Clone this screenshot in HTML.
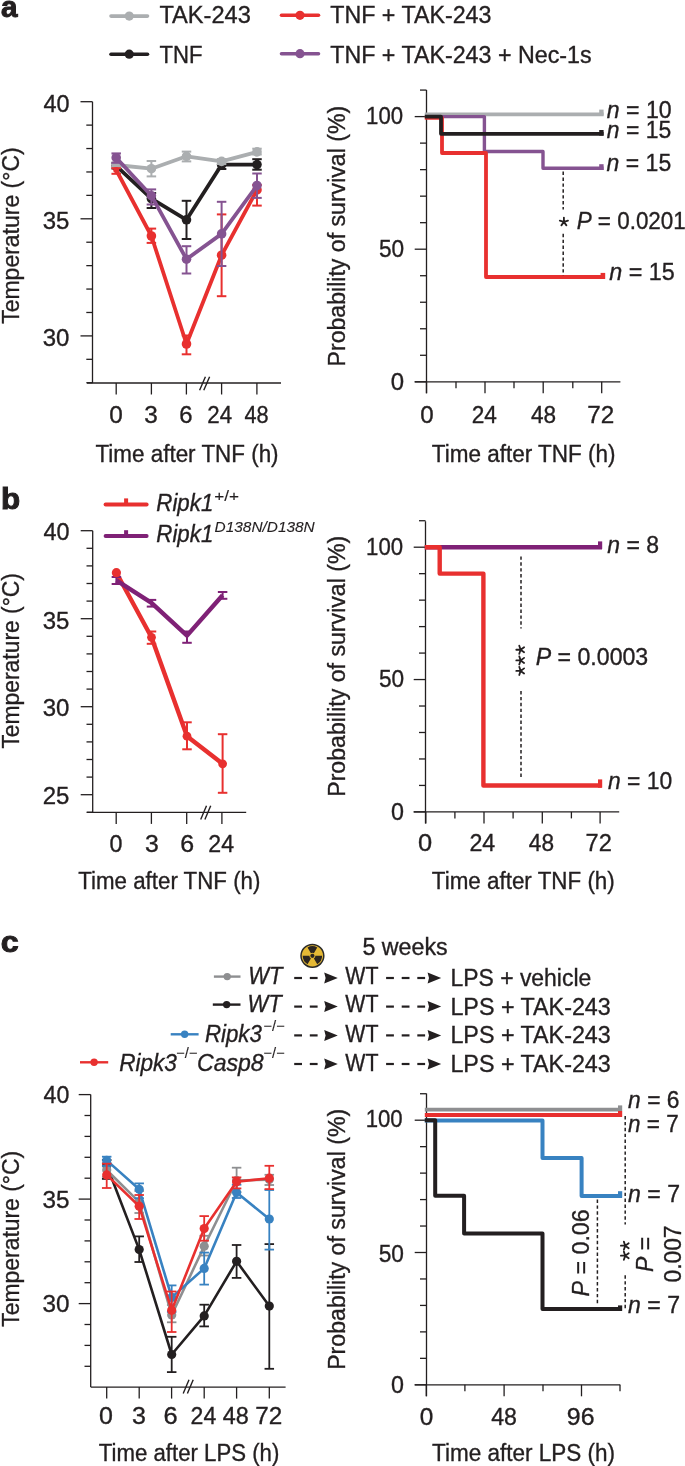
<!DOCTYPE html>
<html><head><meta charset="utf-8"><style>
html,body{margin:0;padding:0;background:#fff;overflow:hidden;}
svg{display:block;will-change:transform;}
text{font-family:"Liberation Sans",sans-serif;stroke:#231f20;stroke-width:0.35px;}
</style></head><body>
<svg width="685" height="1466" viewBox="0 0 685 1466">
<rect width="685" height="1466" fill="#fff"/>
<text x="0.90" y="16.60" font-size="29.5" text-anchor="start" fill="#231f20" textLength="16.52" lengthAdjust="spacingAndGlyphs" font-weight="bold" style="stroke-width:1.0px">a</text>
<text x="0.94" y="508.90" font-size="29.5" text-anchor="start" fill="#231f20" textLength="19.16" lengthAdjust="spacingAndGlyphs" font-weight="bold" style="stroke-width:1.0px">b</text>
<text x="0.71" y="951.50" font-size="29.5" text-anchor="start" fill="#231f20" textLength="17.95" lengthAdjust="spacingAndGlyphs" font-weight="bold" style="stroke-width:1.0px">c</text>
<line x1="111.00" y1="16.10" x2="147.50" y2="16.10" stroke="#abaeb0" stroke-width="3.6" stroke-linecap="round"/>
<circle cx="129.25" cy="16.10" r="4.6" fill="#abaeb0"/>
<line x1="111.00" y1="54.20" x2="147.50" y2="54.20" stroke="#231f20" stroke-width="3.6" stroke-linecap="round"/>
<circle cx="129.25" cy="54.20" r="4.6" fill="#231f20"/>
<line x1="281.50" y1="15.30" x2="318.50" y2="15.30" stroke="#e8302f" stroke-width="3.6" stroke-linecap="round"/>
<circle cx="300.00" cy="15.30" r="4.6" fill="#e8302f"/>
<line x1="281.50" y1="53.70" x2="318.50" y2="53.70" stroke="#855391" stroke-width="3.6" stroke-linecap="round"/>
<circle cx="300.00" cy="53.70" r="4.6" fill="#855391"/>
<text x="159.40" y="23.40" font-size="23.5" text-anchor="start" fill="#231f20" textLength="91.51" lengthAdjust="spacingAndGlyphs" >TAK-243</text>
<text x="159.50" y="62.60" font-size="23.5" text-anchor="start" fill="#231f20" textLength="42.95" lengthAdjust="spacingAndGlyphs" >TNF</text>
<text x="330.20" y="23.40" font-size="23.5" text-anchor="start" fill="#231f20" textLength="161.22" lengthAdjust="spacingAndGlyphs" >TNF + TAK-243</text>
<text x="330.20" y="62.50" font-size="23.5" text-anchor="start" fill="#231f20" textLength="261.35" lengthAdjust="spacingAndGlyphs" >TNF + TAK-243 + Nec-1s</text>
<line x1="92.50" y1="101.70" x2="92.50" y2="383.00" stroke="#231f20" stroke-width="1.3" />
<line x1="86.30" y1="382.74" x2="92.50" y2="382.74" stroke="#231f20" stroke-width="1.3" />
<line x1="86.30" y1="359.32" x2="92.50" y2="359.32" stroke="#231f20" stroke-width="1.3" />
<line x1="80.50" y1="335.90" x2="92.50" y2="335.90" stroke="#231f20" stroke-width="1.3" />
<line x1="86.30" y1="312.48" x2="92.50" y2="312.48" stroke="#231f20" stroke-width="1.3" />
<line x1="86.30" y1="289.06" x2="92.50" y2="289.06" stroke="#231f20" stroke-width="1.3" />
<line x1="86.30" y1="265.64" x2="92.50" y2="265.64" stroke="#231f20" stroke-width="1.3" />
<line x1="86.30" y1="242.22" x2="92.50" y2="242.22" stroke="#231f20" stroke-width="1.3" />
<line x1="80.50" y1="218.80" x2="92.50" y2="218.80" stroke="#231f20" stroke-width="1.3" />
<line x1="86.30" y1="195.38" x2="92.50" y2="195.38" stroke="#231f20" stroke-width="1.3" />
<line x1="86.30" y1="171.96" x2="92.50" y2="171.96" stroke="#231f20" stroke-width="1.3" />
<line x1="86.30" y1="148.54" x2="92.50" y2="148.54" stroke="#231f20" stroke-width="1.3" />
<line x1="86.30" y1="125.12" x2="92.50" y2="125.12" stroke="#231f20" stroke-width="1.3" />
<line x1="80.50" y1="101.70" x2="92.50" y2="101.70" stroke="#231f20" stroke-width="1.3" />
<line x1="87.00" y1="383.00" x2="281.00" y2="383.00" stroke="#231f20" stroke-width="1.3" />
<line x1="116.20" y1="383.00" x2="116.20" y2="394.50" stroke="#231f20" stroke-width="1.3" />
<line x1="151.40" y1="383.00" x2="151.40" y2="394.50" stroke="#231f20" stroke-width="1.3" />
<line x1="186.40" y1="383.00" x2="186.40" y2="394.50" stroke="#231f20" stroke-width="1.3" />
<line x1="221.60" y1="383.00" x2="221.60" y2="394.50" stroke="#231f20" stroke-width="1.3" />
<line x1="256.90" y1="383.00" x2="256.90" y2="394.50" stroke="#231f20" stroke-width="1.3" />
<line x1="199.60" y1="390.35" x2="205.40" y2="376.65" stroke="#231f20" stroke-width="1.4" />
<line x1="203.80" y1="390.35" x2="209.60" y2="376.65" stroke="#231f20" stroke-width="1.4" />
<text x="43.50" y="111.70" font-size="23.5" text-anchor="start" fill="#231f20" textLength="26.04" lengthAdjust="spacingAndGlyphs" >40</text>
<text x="42.68" y="228.80" font-size="23.5" text-anchor="start" fill="#231f20" textLength="26.69" lengthAdjust="spacingAndGlyphs" >35</text>
<text x="42.68" y="345.90" font-size="23.5" text-anchor="start" fill="#231f20" textLength="26.69" lengthAdjust="spacingAndGlyphs" >30</text>
<text x="109.36" y="423.20" font-size="23.5" text-anchor="start" fill="#231f20" textLength="13.55" lengthAdjust="spacingAndGlyphs" >0</text>
<text x="144.26" y="423.20" font-size="23.5" text-anchor="start" fill="#231f20" textLength="13.55" lengthAdjust="spacingAndGlyphs" >3</text>
<text x="179.38" y="423.20" font-size="23.5" text-anchor="start" fill="#231f20" textLength="13.32" lengthAdjust="spacingAndGlyphs" >6</text>
<text x="207.35" y="423.20" font-size="23.5" text-anchor="start" fill="#231f20" textLength="24.78" lengthAdjust="spacingAndGlyphs" >24</text>
<text x="244.40" y="423.20" font-size="23.5" text-anchor="start" fill="#231f20" textLength="24.15" lengthAdjust="spacingAndGlyphs" >48</text>
<text x="95.50" y="461.70" font-size="23.5" text-anchor="start" fill="#231f20" textLength="183.09" lengthAdjust="spacingAndGlyphs" >Time after TNF (h)</text>
<text x="19.00" y="323.80" font-size="23.5" text-anchor="start" fill="#231f20" transform="rotate(-90 19.00 323.80)" textLength="176.45" lengthAdjust="spacingAndGlyphs" >Temperature (°C)</text>
<line x1="116.20" y1="163.00" x2="116.20" y2="168.50" stroke="#231f20" stroke-width="2.0" />
<line x1="111.45" y1="163.00" x2="120.95" y2="163.00" stroke="#231f20" stroke-width="2.0" />
<line x1="111.45" y1="168.50" x2="120.95" y2="168.50" stroke="#231f20" stroke-width="2.0" />
<line x1="151.40" y1="193.00" x2="151.40" y2="208.00" stroke="#231f20" stroke-width="2.0" />
<line x1="146.65" y1="193.00" x2="156.15" y2="193.00" stroke="#231f20" stroke-width="2.0" />
<line x1="146.65" y1="208.00" x2="156.15" y2="208.00" stroke="#231f20" stroke-width="2.0" />
<line x1="186.50" y1="200.80" x2="186.50" y2="239.00" stroke="#231f20" stroke-width="2.0" />
<line x1="181.75" y1="200.80" x2="191.25" y2="200.80" stroke="#231f20" stroke-width="2.0" />
<line x1="181.75" y1="239.00" x2="191.25" y2="239.00" stroke="#231f20" stroke-width="2.0" />
<line x1="221.60" y1="161.00" x2="221.60" y2="169.00" stroke="#231f20" stroke-width="2.0" />
<line x1="216.85" y1="161.00" x2="226.35" y2="161.00" stroke="#231f20" stroke-width="2.0" />
<line x1="216.85" y1="169.00" x2="226.35" y2="169.00" stroke="#231f20" stroke-width="2.0" />
<line x1="257.00" y1="159.20" x2="257.00" y2="169.70" stroke="#231f20" stroke-width="2.0" />
<line x1="252.25" y1="159.20" x2="261.75" y2="159.20" stroke="#231f20" stroke-width="2.0" />
<line x1="252.25" y1="169.70" x2="261.75" y2="169.70" stroke="#231f20" stroke-width="2.0" />
<polyline points="116.20,165.80 151.40,198.60 186.50,219.80 221.60,164.70 257.00,164.60" fill="none" stroke="#231f20" stroke-width="3.8" stroke-linejoin="round" />
<circle cx="116.20" cy="165.80" r="4.8" fill="#231f20"/>
<circle cx="151.40" cy="198.60" r="4.8" fill="#231f20"/>
<circle cx="186.50" cy="219.80" r="4.8" fill="#231f20"/>
<circle cx="221.60" cy="164.70" r="4.8" fill="#231f20"/>
<circle cx="257.00" cy="164.60" r="4.8" fill="#231f20"/>
<line x1="116.20" y1="162.50" x2="116.20" y2="167.50" stroke="#abaeb0" stroke-width="2.0" />
<line x1="111.45" y1="162.50" x2="120.95" y2="162.50" stroke="#abaeb0" stroke-width="2.0" />
<line x1="111.45" y1="167.50" x2="120.95" y2="167.50" stroke="#abaeb0" stroke-width="2.0" />
<line x1="151.40" y1="161.00" x2="151.40" y2="176.40" stroke="#abaeb0" stroke-width="2.0" />
<line x1="146.65" y1="161.00" x2="156.15" y2="161.00" stroke="#abaeb0" stroke-width="2.0" />
<line x1="146.65" y1="176.40" x2="156.15" y2="176.40" stroke="#abaeb0" stroke-width="2.0" />
<line x1="186.50" y1="151.60" x2="186.50" y2="161.40" stroke="#abaeb0" stroke-width="2.0" />
<line x1="181.75" y1="151.60" x2="191.25" y2="151.60" stroke="#abaeb0" stroke-width="2.0" />
<line x1="181.75" y1="161.40" x2="191.25" y2="161.40" stroke="#abaeb0" stroke-width="2.0" />
<line x1="221.60" y1="159.00" x2="221.60" y2="164.00" stroke="#abaeb0" stroke-width="2.0" />
<line x1="216.85" y1="159.00" x2="226.35" y2="159.00" stroke="#abaeb0" stroke-width="2.0" />
<line x1="216.85" y1="164.00" x2="226.35" y2="164.00" stroke="#abaeb0" stroke-width="2.0" />
<line x1="257.00" y1="148.70" x2="257.00" y2="154.50" stroke="#abaeb0" stroke-width="2.0" />
<line x1="252.25" y1="148.70" x2="261.75" y2="148.70" stroke="#abaeb0" stroke-width="2.0" />
<line x1="252.25" y1="154.50" x2="261.75" y2="154.50" stroke="#abaeb0" stroke-width="2.0" />
<polyline points="116.20,165.00 151.40,168.70 186.50,156.30 221.60,161.40 257.00,151.90" fill="none" stroke="#abaeb0" stroke-width="3.8" stroke-linejoin="round" />
<circle cx="116.20" cy="165.00" r="4.8" fill="#abaeb0"/>
<circle cx="151.40" cy="168.70" r="4.8" fill="#abaeb0"/>
<circle cx="186.50" cy="156.30" r="4.8" fill="#abaeb0"/>
<circle cx="221.60" cy="161.40" r="4.8" fill="#abaeb0"/>
<circle cx="257.00" cy="151.90" r="4.8" fill="#abaeb0"/>
<line x1="116.20" y1="168.20" x2="116.20" y2="173.80" stroke="#e8302f" stroke-width="2.0" />
<line x1="111.45" y1="168.20" x2="120.95" y2="168.20" stroke="#e8302f" stroke-width="2.0" />
<line x1="111.45" y1="173.80" x2="120.95" y2="173.80" stroke="#e8302f" stroke-width="2.0" />
<line x1="151.40" y1="228.60" x2="151.40" y2="242.90" stroke="#e8302f" stroke-width="2.0" />
<line x1="146.65" y1="228.60" x2="156.15" y2="228.60" stroke="#e8302f" stroke-width="2.0" />
<line x1="146.65" y1="242.90" x2="156.15" y2="242.90" stroke="#e8302f" stroke-width="2.0" />
<line x1="186.50" y1="335.50" x2="186.50" y2="354.30" stroke="#e8302f" stroke-width="2.0" />
<line x1="181.75" y1="335.50" x2="191.25" y2="335.50" stroke="#e8302f" stroke-width="2.0" />
<line x1="181.75" y1="354.30" x2="191.25" y2="354.30" stroke="#e8302f" stroke-width="2.0" />
<line x1="221.60" y1="214.40" x2="221.60" y2="296.20" stroke="#e8302f" stroke-width="2.0" />
<line x1="216.85" y1="214.40" x2="226.35" y2="214.40" stroke="#e8302f" stroke-width="2.0" />
<line x1="216.85" y1="296.20" x2="226.35" y2="296.20" stroke="#e8302f" stroke-width="2.0" />
<line x1="257.00" y1="185.00" x2="257.00" y2="205.60" stroke="#e8302f" stroke-width="2.0" />
<line x1="252.25" y1="185.00" x2="261.75" y2="185.00" stroke="#e8302f" stroke-width="2.0" />
<line x1="252.25" y1="205.60" x2="261.75" y2="205.60" stroke="#e8302f" stroke-width="2.0" />
<polyline points="116.20,170.00 151.40,236.00 186.50,344.00 221.60,255.20 257.00,189.90" fill="none" stroke="#e8302f" stroke-width="3.8" stroke-linejoin="round" />
<circle cx="116.20" cy="170.00" r="3.0" fill="#e8302f"/>
<circle cx="151.40" cy="236.00" r="4.8" fill="#e8302f"/>
<circle cx="186.50" cy="344.00" r="4.8" fill="#e8302f"/>
<circle cx="221.60" cy="255.20" r="4.8" fill="#e8302f"/>
<circle cx="257.00" cy="189.90" r="4.8" fill="#e8302f"/>
<line x1="116.20" y1="153.40" x2="116.20" y2="162.80" stroke="#855391" stroke-width="2.0" />
<line x1="111.45" y1="153.40" x2="120.95" y2="153.40" stroke="#855391" stroke-width="2.0" />
<line x1="111.45" y1="162.80" x2="120.95" y2="162.80" stroke="#855391" stroke-width="2.0" />
<line x1="151.40" y1="189.40" x2="151.40" y2="204.50" stroke="#855391" stroke-width="2.0" />
<line x1="146.65" y1="189.40" x2="156.15" y2="189.40" stroke="#855391" stroke-width="2.0" />
<line x1="146.65" y1="204.50" x2="156.15" y2="204.50" stroke="#855391" stroke-width="2.0" />
<line x1="186.50" y1="246.20" x2="186.50" y2="273.50" stroke="#855391" stroke-width="2.0" />
<line x1="181.75" y1="246.20" x2="191.25" y2="246.20" stroke="#855391" stroke-width="2.0" />
<line x1="181.75" y1="273.50" x2="191.25" y2="273.50" stroke="#855391" stroke-width="2.0" />
<line x1="221.60" y1="201.80" x2="221.60" y2="266.00" stroke="#855391" stroke-width="2.0" />
<line x1="216.85" y1="201.80" x2="226.35" y2="201.80" stroke="#855391" stroke-width="2.0" />
<line x1="216.85" y1="266.00" x2="226.35" y2="266.00" stroke="#855391" stroke-width="2.0" />
<line x1="257.00" y1="173.50" x2="257.00" y2="197.90" stroke="#855391" stroke-width="2.0" />
<line x1="252.25" y1="173.50" x2="261.75" y2="173.50" stroke="#855391" stroke-width="2.0" />
<line x1="252.25" y1="197.90" x2="261.75" y2="197.90" stroke="#855391" stroke-width="2.0" />
<polyline points="116.20,157.70 151.40,195.70 186.50,259.20 221.60,233.90 257.00,185.50" fill="none" stroke="#855391" stroke-width="3.8" stroke-linejoin="round" />
<circle cx="116.20" cy="157.70" r="4.8" fill="#855391"/>
<circle cx="151.40" cy="195.70" r="4.8" fill="#855391"/>
<circle cx="186.50" cy="259.20" r="4.8" fill="#855391"/>
<circle cx="221.60" cy="233.90" r="4.8" fill="#855391"/>
<circle cx="257.00" cy="185.50" r="4.8" fill="#855391"/>
<line x1="426.50" y1="90.00" x2="426.50" y2="393.30" stroke="#231f20" stroke-width="1.3" />
<line x1="414.70" y1="381.80" x2="426.50" y2="381.80" stroke="#231f20" stroke-width="1.3" />
<line x1="420.00" y1="355.28" x2="426.50" y2="355.28" stroke="#231f20" stroke-width="1.3" />
<line x1="420.00" y1="328.76" x2="426.50" y2="328.76" stroke="#231f20" stroke-width="1.3" />
<line x1="420.00" y1="302.24" x2="426.50" y2="302.24" stroke="#231f20" stroke-width="1.3" />
<line x1="420.00" y1="275.72" x2="426.50" y2="275.72" stroke="#231f20" stroke-width="1.3" />
<line x1="414.70" y1="249.20" x2="426.50" y2="249.20" stroke="#231f20" stroke-width="1.3" />
<line x1="420.00" y1="222.68" x2="426.50" y2="222.68" stroke="#231f20" stroke-width="1.3" />
<line x1="420.00" y1="196.16" x2="426.50" y2="196.16" stroke="#231f20" stroke-width="1.3" />
<line x1="420.00" y1="169.64" x2="426.50" y2="169.64" stroke="#231f20" stroke-width="1.3" />
<line x1="420.00" y1="143.12" x2="426.50" y2="143.12" stroke="#231f20" stroke-width="1.3" />
<line x1="414.70" y1="116.60" x2="426.50" y2="116.60" stroke="#231f20" stroke-width="1.3" />
<line x1="420.00" y1="90.08" x2="426.50" y2="90.08" stroke="#231f20" stroke-width="1.3" />
<line x1="414.70" y1="381.80" x2="620.40" y2="381.80" stroke="#231f20" stroke-width="1.3" />
<line x1="426.50" y1="381.80" x2="426.50" y2="393.30" stroke="#231f20" stroke-width="1.3" />
<line x1="485.00" y1="381.80" x2="485.00" y2="393.30" stroke="#231f20" stroke-width="1.3" />
<line x1="543.20" y1="381.80" x2="543.20" y2="393.30" stroke="#231f20" stroke-width="1.3" />
<line x1="601.70" y1="381.80" x2="601.70" y2="393.30" stroke="#231f20" stroke-width="1.3" />
<line x1="456.00" y1="381.80" x2="456.00" y2="388.30" stroke="#231f20" stroke-width="1.3" />
<line x1="514.00" y1="381.80" x2="514.00" y2="388.30" stroke="#231f20" stroke-width="1.3" />
<line x1="572.80" y1="381.80" x2="572.80" y2="388.30" stroke="#231f20" stroke-width="1.3" />
<text x="366.11" y="124.20" font-size="23.5" text-anchor="start" fill="#231f20" textLength="36.99" lengthAdjust="spacingAndGlyphs" >100</text>
<text x="378.94" y="257.10" font-size="23.5" text-anchor="start" fill="#231f20" textLength="25.16" lengthAdjust="spacingAndGlyphs" >50</text>
<text x="390.78" y="390.00" font-size="23.5" text-anchor="start" fill="#231f20" textLength="13.32" lengthAdjust="spacingAndGlyphs" >0</text>
<text x="420.17" y="423.20" font-size="23.5" text-anchor="start" fill="#231f20" textLength="13.43" lengthAdjust="spacingAndGlyphs" >0</text>
<text x="471.64" y="423.20" font-size="23.5" text-anchor="start" fill="#231f20" textLength="25.20" lengthAdjust="spacingAndGlyphs" >24</text>
<text x="531.00" y="423.20" font-size="23.5" text-anchor="start" fill="#231f20" textLength="25.09" lengthAdjust="spacingAndGlyphs" >48</text>
<text x="587.17" y="423.20" font-size="23.5" text-anchor="start" fill="#231f20" textLength="27.01" lengthAdjust="spacingAndGlyphs" >72</text>
<text x="431.80" y="461.50" font-size="23.5" text-anchor="start" fill="#231f20" textLength="183.70" lengthAdjust="spacingAndGlyphs" >Time after TNF (h)</text>
<text x="345.40" y="366.47" font-size="23.5" text-anchor="start" fill="#231f20" transform="rotate(-90 345.40 366.47)" textLength="260.66" lengthAdjust="spacingAndGlyphs" >Probability of survival (%)</text>
<polyline points="424.80,114.30 603.60,114.30" fill="none" stroke="#abaeb0" stroke-width="3.8" stroke-linejoin="round" />
<polyline points="441.00,116.60 484.40,116.60 484.40,151.50 543.00,151.50 543.00,168.30 603.60,168.30" fill="none" stroke="#855391" stroke-width="3.4" stroke-linejoin="round" />
<polyline points="424.80,117.90 442.00,117.90 442.00,153.00 486.00,153.00 486.00,277.00 605.00,277.00" fill="none" stroke="#e8302f" stroke-width="3.8" stroke-linejoin="round" />
<polyline points="424.80,116.60 441.00,116.60 441.00,133.80 603.60,133.80" fill="none" stroke="#231f20" stroke-width="3.8" stroke-linejoin="round" />
<rect x="599.20" y="109.60" width="4.40" height="5.90" fill="#abaeb0"/>
<rect x="599.20" y="130.00" width="4.40" height="5.60" fill="#231f20"/>
<rect x="599.20" y="164.20" width="4.40" height="5.80" fill="#855391"/>
<rect x="600.60" y="272.90" width="4.60" height="6.00" fill="#e8302f"/>
<line x1="563.20" y1="171.60" x2="563.20" y2="209.50" stroke="#231f20" stroke-width="1.5" stroke-dasharray="3.4 2.5"/>
<line x1="563.20" y1="233.80" x2="563.20" y2="275.20" stroke="#231f20" stroke-width="1.5" stroke-dasharray="3.4 2.5"/>
<path d="M563.90,221.90L563.90,217.60M563.90,221.90L567.99,220.57M563.90,221.90L566.43,225.38M563.90,221.90L561.37,225.38M563.90,221.90L559.81,220.57" stroke="#231f20" stroke-width="1.8" stroke-linecap="round" fill="none"/>
<text x="576.65" y="228.60" font-size="23.5" text-anchor="start" fill="#231f20" textLength="109.15" lengthAdjust="spacingAndGlyphs" ><tspan font-style="italic">P</tspan> = 0.0201</text>
<text x="606.80" y="118.00" font-size="23.5" text-anchor="start" fill="#231f20" textLength="64.88" lengthAdjust="spacingAndGlyphs" ><tspan font-style="italic">n</tspan> = 10</text>
<text x="606.80" y="137.80" font-size="23.5" text-anchor="start" fill="#231f20" textLength="64.38" lengthAdjust="spacingAndGlyphs" ><tspan font-style="italic">n</tspan> = 15</text>
<text x="606.60" y="171.30" font-size="23.5" text-anchor="start" fill="#231f20" textLength="64.58" lengthAdjust="spacingAndGlyphs" ><tspan font-style="italic">n</tspan> = 15</text>
<text x="609.20" y="280.00" font-size="23.5" text-anchor="start" fill="#231f20" textLength="65.59" lengthAdjust="spacingAndGlyphs" ><tspan font-style="italic">n</tspan> = 15</text>
<line x1="105.60" y1="504.50" x2="146.60" y2="504.50" stroke="#e8302f" stroke-width="4" stroke-linecap="round"/>
<rect x="124.10" y="498.40" width="4.00" height="6.10" fill="#e8302f"/>
<line x1="105.60" y1="536.10" x2="146.60" y2="536.10" stroke="#7f2176" stroke-width="4" stroke-linecap="round"/>
<rect x="124.10" y="530.20" width="4.00" height="5.90" fill="#7f2176"/>
<text x="156.35" y="511.00" font-size="23.5" text-anchor="start" fill="#231f20" textLength="56.93" lengthAdjust="spacingAndGlyphs" font-style="italic">Ripk1</text>
<text x="214.25" y="501.40" font-size="15" text-anchor="start" fill="#231f20" textLength="24.83" lengthAdjust="spacingAndGlyphs" style="stroke-width:0.12px">+/+</text>
<text x="156.35" y="542.20" font-size="23.5" text-anchor="start" fill="#231f20" textLength="56.93" lengthAdjust="spacingAndGlyphs" font-style="italic">Ripk1</text>
<text x="214.57" y="531.50" font-size="15" text-anchor="start" fill="#231f20" textLength="100.18" lengthAdjust="spacingAndGlyphs" font-style="italic" style="stroke-width:0.12px">D138N/D138N</text>
<line x1="92.70" y1="530.70" x2="92.70" y2="812.40" stroke="#231f20" stroke-width="1.3" />
<line x1="86.50" y1="812.30" x2="92.70" y2="812.30" stroke="#231f20" stroke-width="1.3" />
<line x1="80.70" y1="794.70" x2="92.70" y2="794.70" stroke="#231f20" stroke-width="1.3" />
<line x1="86.50" y1="777.10" x2="92.70" y2="777.10" stroke="#231f20" stroke-width="1.3" />
<line x1="86.50" y1="759.50" x2="92.70" y2="759.50" stroke="#231f20" stroke-width="1.3" />
<line x1="86.50" y1="741.90" x2="92.70" y2="741.90" stroke="#231f20" stroke-width="1.3" />
<line x1="86.50" y1="724.30" x2="92.70" y2="724.30" stroke="#231f20" stroke-width="1.3" />
<line x1="80.70" y1="706.70" x2="92.70" y2="706.70" stroke="#231f20" stroke-width="1.3" />
<line x1="86.50" y1="689.10" x2="92.70" y2="689.10" stroke="#231f20" stroke-width="1.3" />
<line x1="86.50" y1="671.50" x2="92.70" y2="671.50" stroke="#231f20" stroke-width="1.3" />
<line x1="86.50" y1="653.90" x2="92.70" y2="653.90" stroke="#231f20" stroke-width="1.3" />
<line x1="86.50" y1="636.30" x2="92.70" y2="636.30" stroke="#231f20" stroke-width="1.3" />
<line x1="80.70" y1="618.70" x2="92.70" y2="618.70" stroke="#231f20" stroke-width="1.3" />
<line x1="86.50" y1="601.10" x2="92.70" y2="601.10" stroke="#231f20" stroke-width="1.3" />
<line x1="86.50" y1="583.50" x2="92.70" y2="583.50" stroke="#231f20" stroke-width="1.3" />
<line x1="86.50" y1="565.90" x2="92.70" y2="565.90" stroke="#231f20" stroke-width="1.3" />
<line x1="86.50" y1="548.30" x2="92.70" y2="548.30" stroke="#231f20" stroke-width="1.3" />
<line x1="80.70" y1="530.70" x2="92.70" y2="530.70" stroke="#231f20" stroke-width="1.3" />
<line x1="87.00" y1="812.40" x2="246.20" y2="812.40" stroke="#231f20" stroke-width="1.3" />
<line x1="116.20" y1="812.40" x2="116.20" y2="823.90" stroke="#231f20" stroke-width="1.3" />
<line x1="151.40" y1="812.40" x2="151.40" y2="823.90" stroke="#231f20" stroke-width="1.3" />
<line x1="186.70" y1="812.40" x2="186.70" y2="823.90" stroke="#231f20" stroke-width="1.3" />
<line x1="221.90" y1="812.40" x2="221.90" y2="823.90" stroke="#231f20" stroke-width="1.3" />
<line x1="200.70" y1="819.45" x2="206.50" y2="805.75" stroke="#231f20" stroke-width="1.4" />
<line x1="204.90" y1="819.45" x2="210.70" y2="805.75" stroke="#231f20" stroke-width="1.4" />
<text x="43.60" y="540.30" font-size="23.5" text-anchor="start" fill="#231f20" textLength="26.04" lengthAdjust="spacingAndGlyphs" >40</text>
<text x="42.68" y="628.80" font-size="23.5" text-anchor="start" fill="#231f20" textLength="26.69" lengthAdjust="spacingAndGlyphs" >35</text>
<text x="42.68" y="716.40" font-size="23.5" text-anchor="start" fill="#231f20" textLength="26.69" lengthAdjust="spacingAndGlyphs" >30</text>
<text x="42.68" y="804.40" font-size="23.5" text-anchor="start" fill="#231f20" textLength="26.69" lengthAdjust="spacingAndGlyphs" >25</text>
<text x="109.61" y="851.60" font-size="23.5" text-anchor="start" fill="#231f20" textLength="12.96" lengthAdjust="spacingAndGlyphs" >0</text>
<text x="144.95" y="851.60" font-size="23.5" text-anchor="start" fill="#231f20" textLength="13.79" lengthAdjust="spacingAndGlyphs" >3</text>
<text x="180.24" y="851.60" font-size="23.5" text-anchor="start" fill="#231f20" textLength="13.91" lengthAdjust="spacingAndGlyphs" >6</text>
<text x="208.32" y="851.60" font-size="23.5" text-anchor="start" fill="#231f20" textLength="25.72" lengthAdjust="spacingAndGlyphs" >24</text>
<text x="78.30" y="889.40" font-size="23.5" text-anchor="start" fill="#231f20" textLength="182.09" lengthAdjust="spacingAndGlyphs" >Time after TNF (h)</text>
<text x="19.00" y="748.60" font-size="23.5" text-anchor="start" fill="#231f20" transform="rotate(-90 19.00 748.60)" textLength="175.54" lengthAdjust="spacingAndGlyphs" >Temperature (°C)</text>
<line x1="151.50" y1="631.50" x2="151.50" y2="643.80" stroke="#e8302f" stroke-width="2.0" />
<line x1="146.75" y1="631.50" x2="156.25" y2="631.50" stroke="#e8302f" stroke-width="2.0" />
<line x1="146.75" y1="643.80" x2="156.25" y2="643.80" stroke="#e8302f" stroke-width="2.0" />
<line x1="187.00" y1="722.30" x2="187.00" y2="749.30" stroke="#e8302f" stroke-width="2.0" />
<line x1="182.25" y1="722.30" x2="191.75" y2="722.30" stroke="#e8302f" stroke-width="2.0" />
<line x1="182.25" y1="749.30" x2="191.75" y2="749.30" stroke="#e8302f" stroke-width="2.0" />
<line x1="222.60" y1="734.20" x2="222.60" y2="792.80" stroke="#e8302f" stroke-width="2.0" />
<line x1="217.85" y1="734.20" x2="227.35" y2="734.20" stroke="#e8302f" stroke-width="2.0" />
<line x1="217.85" y1="792.80" x2="227.35" y2="792.80" stroke="#e8302f" stroke-width="2.0" />
<polyline points="116.40,572.70 151.50,637.30 187.00,736.20 222.60,763.80" fill="none" stroke="#e8302f" stroke-width="4.4" stroke-linejoin="round" />
<line x1="116.40" y1="577.00" x2="116.40" y2="584.00" stroke="#7f2176" stroke-width="2.0" />
<line x1="111.65" y1="577.00" x2="121.15" y2="577.00" stroke="#7f2176" stroke-width="2.0" />
<line x1="111.65" y1="584.00" x2="121.15" y2="584.00" stroke="#7f2176" stroke-width="2.0" />
<line x1="151.50" y1="599.90" x2="151.50" y2="606.60" stroke="#7f2176" stroke-width="2.0" />
<line x1="146.75" y1="599.90" x2="156.25" y2="599.90" stroke="#7f2176" stroke-width="2.0" />
<line x1="146.75" y1="606.60" x2="156.25" y2="606.60" stroke="#7f2176" stroke-width="2.0" />
<line x1="187.00" y1="631.50" x2="187.00" y2="642.80" stroke="#7f2176" stroke-width="2.0" />
<line x1="182.25" y1="631.50" x2="191.75" y2="631.50" stroke="#7f2176" stroke-width="2.0" />
<line x1="182.25" y1="642.80" x2="191.75" y2="642.80" stroke="#7f2176" stroke-width="2.0" />
<line x1="222.60" y1="592.00" x2="222.60" y2="598.80" stroke="#7f2176" stroke-width="2.0" />
<line x1="217.85" y1="592.00" x2="227.35" y2="592.00" stroke="#7f2176" stroke-width="2.0" />
<line x1="217.85" y1="598.80" x2="227.35" y2="598.80" stroke="#7f2176" stroke-width="2.0" />
<polyline points="116.40,580.40 151.50,602.90 187.00,635.60 222.60,595.20" fill="none" stroke="#7f2176" stroke-width="4.4" stroke-linejoin="round" />
<circle cx="116.40" cy="572.70" r="4.6" fill="#e8302f"/>
<circle cx="151.50" cy="637.30" r="4.4" fill="#e8302f"/>
<circle cx="187.00" cy="736.20" r="4.4" fill="#e8302f"/>
<circle cx="222.60" cy="763.80" r="4.4" fill="#e8302f"/>
<line x1="425.50" y1="521.20" x2="425.50" y2="823.40" stroke="#231f20" stroke-width="1.3" />
<line x1="413.70" y1="811.90" x2="425.50" y2="811.90" stroke="#231f20" stroke-width="1.3" />
<line x1="419.00" y1="785.43" x2="425.50" y2="785.43" stroke="#231f20" stroke-width="1.3" />
<line x1="419.00" y1="758.96" x2="425.50" y2="758.96" stroke="#231f20" stroke-width="1.3" />
<line x1="419.00" y1="732.49" x2="425.50" y2="732.49" stroke="#231f20" stroke-width="1.3" />
<line x1="419.00" y1="706.02" x2="425.50" y2="706.02" stroke="#231f20" stroke-width="1.3" />
<line x1="413.70" y1="679.55" x2="425.50" y2="679.55" stroke="#231f20" stroke-width="1.3" />
<line x1="419.00" y1="653.08" x2="425.50" y2="653.08" stroke="#231f20" stroke-width="1.3" />
<line x1="419.00" y1="626.61" x2="425.50" y2="626.61" stroke="#231f20" stroke-width="1.3" />
<line x1="419.00" y1="600.14" x2="425.50" y2="600.14" stroke="#231f20" stroke-width="1.3" />
<line x1="419.00" y1="573.67" x2="425.50" y2="573.67" stroke="#231f20" stroke-width="1.3" />
<line x1="413.70" y1="547.20" x2="425.50" y2="547.20" stroke="#231f20" stroke-width="1.3" />
<line x1="419.00" y1="520.73" x2="425.50" y2="520.73" stroke="#231f20" stroke-width="1.3" />
<line x1="413.70" y1="811.90" x2="619.20" y2="811.90" stroke="#231f20" stroke-width="1.3" />
<line x1="425.80" y1="811.90" x2="425.80" y2="823.40" stroke="#231f20" stroke-width="1.3" />
<line x1="484.00" y1="811.90" x2="484.00" y2="823.40" stroke="#231f20" stroke-width="1.3" />
<line x1="542.30" y1="811.90" x2="542.30" y2="823.40" stroke="#231f20" stroke-width="1.3" />
<line x1="600.10" y1="811.90" x2="600.10" y2="823.40" stroke="#231f20" stroke-width="1.3" />
<line x1="454.90" y1="811.90" x2="454.90" y2="818.40" stroke="#231f20" stroke-width="1.3" />
<line x1="513.10" y1="811.90" x2="513.10" y2="818.40" stroke="#231f20" stroke-width="1.3" />
<line x1="571.40" y1="811.90" x2="571.40" y2="818.40" stroke="#231f20" stroke-width="1.3" />
<text x="366.11" y="554.70" font-size="23.5" text-anchor="start" fill="#231f20" textLength="36.99" lengthAdjust="spacingAndGlyphs" >100</text>
<text x="378.94" y="687.40" font-size="23.5" text-anchor="start" fill="#231f20" textLength="25.16" lengthAdjust="spacingAndGlyphs" >50</text>
<text x="390.91" y="820.00" font-size="23.5" text-anchor="start" fill="#231f20" textLength="12.96" lengthAdjust="spacingAndGlyphs" >0</text>
<text x="417.92" y="851.40" font-size="23.5" text-anchor="start" fill="#231f20" textLength="14.15" lengthAdjust="spacingAndGlyphs" >0</text>
<text x="469.41" y="851.40" font-size="23.5" text-anchor="start" fill="#231f20" textLength="25.83" lengthAdjust="spacingAndGlyphs" >24</text>
<text x="528.80" y="851.40" font-size="23.5" text-anchor="start" fill="#231f20" textLength="25.20" lengthAdjust="spacingAndGlyphs" >48</text>
<text x="585.60" y="851.40" font-size="23.5" text-anchor="start" fill="#231f20" textLength="26.25" lengthAdjust="spacingAndGlyphs" >72</text>
<text x="431.80" y="889.20" font-size="23.5" text-anchor="start" fill="#231f20" textLength="182.99" lengthAdjust="spacingAndGlyphs" >Time after TNF (h)</text>
<text x="345.00" y="796.77" font-size="23.5" text-anchor="start" fill="#231f20" transform="rotate(-90 345.00 796.77)" textLength="261.06" lengthAdjust="spacingAndGlyphs" >Probability of survival (%)</text>
<polyline points="424.80,547.30 602.00,547.30" fill="none" stroke="#7f2176" stroke-width="4.4" stroke-linejoin="round" />
<polyline points="424.80,547.30 439.70,547.30 439.70,573.60 483.40,573.60 483.40,785.50 601.70,785.50" fill="none" stroke="#e8302f" stroke-width="4.4" stroke-linejoin="round" />
<rect x="598.00" y="541.40" width="4.20" height="7.50" fill="#7f2176"/>
<rect x="598.00" y="779.40" width="4.20" height="8.30" fill="#e8302f"/>
<line x1="521.00" y1="556.40" x2="521.00" y2="628.50" stroke="#231f20" stroke-width="1.5" stroke-dasharray="3.4 2.5"/>
<line x1="521.00" y1="691.00" x2="521.00" y2="778.60" stroke="#231f20" stroke-width="1.5" stroke-dasharray="3.4 2.5"/>
<path d="M520.60,649.75L516.30,649.75M520.60,649.75L519.27,645.66M520.60,649.75L524.08,647.22M520.60,649.75L524.08,652.28M520.60,649.75L519.27,653.84" stroke="#231f20" stroke-width="1.8" stroke-linecap="round" fill="none"/>
<path d="M520.60,660.40L516.30,660.40M520.60,660.40L519.27,656.31M520.60,660.40L524.08,657.87M520.60,660.40L524.08,662.93M520.60,660.40L519.27,664.49" stroke="#231f20" stroke-width="1.8" stroke-linecap="round" fill="none"/>
<path d="M520.60,670.90L516.30,670.90M520.60,670.90L519.27,666.81M520.60,670.90L524.08,668.37M520.60,670.90L524.08,673.43M520.60,670.90L519.27,674.99" stroke="#231f20" stroke-width="1.8" stroke-linecap="round" fill="none"/>
<text x="535.72" y="665.00" font-size="23.5" text-anchor="start" fill="#231f20" textLength="112.52" lengthAdjust="spacingAndGlyphs" ><tspan font-style="italic">P</tspan> = 0.0003</text>
<text x="607.20" y="552.80" font-size="23.5" text-anchor="start" fill="#231f20" textLength="51.82" lengthAdjust="spacingAndGlyphs" ><tspan font-style="italic">n</tspan> = 8</text>
<text x="608.00" y="788.60" font-size="23.5" text-anchor="start" fill="#231f20" textLength="64.17" lengthAdjust="spacingAndGlyphs" ><tspan font-style="italic">n</tspan> = 10</text>
<text x="362.51" y="954.70" font-size="23.5" text-anchor="start" fill="#231f20" textLength="85.10" lengthAdjust="spacingAndGlyphs" >5 weeks</text>
<circle cx="312.4" cy="955.8" r="11.4" fill="#e5b935" stroke="#2b2a28" stroke-width="1.5"/>
<path d="M310.90,953.20 L307.55,947.40 A9.7,9.7 0 0 1 317.25,947.40 L313.90,953.20 A3.0,3.0 0 0 0 310.90,953.20Z" fill="#2b2520"/>
<path d="M315.40,955.80 L322.10,955.80 A9.7,9.7 0 0 1 317.25,964.20 L313.90,958.40 A3.0,3.0 0 0 0 315.40,955.80Z" fill="#2b2520"/>
<path d="M310.90,958.40 L307.55,964.20 A9.7,9.7 0 0 1 302.70,955.80 L309.40,955.80 A3.0,3.0 0 0 0 310.90,958.40Z" fill="#2b2520"/>
<circle cx="312.40" cy="955.80" r="2.1" fill="#2b2520"/>
<line x1="213.90" y1="976.60" x2="240.50" y2="976.60" stroke="#8e8f91" stroke-width="2.4" />
<circle cx="227.20" cy="976.60" r="3.7" fill="#8e8f91"/>
<line x1="294.20" y1="978.00" x2="302.00" y2="978.00" stroke="#231f20" stroke-width="2.2" />
<line x1="309.80" y1="978.00" x2="317.60" y2="978.00" stroke="#231f20" stroke-width="2.2" />
<path d="M324.20,972.50 L337.80,978.00 L324.20,983.50 L325.60,978.00Z" fill="#231f20"/>
<text x="345.30" y="984.00" font-size="23.5" text-anchor="start" fill="#231f20" textLength="33.20" lengthAdjust="spacingAndGlyphs" >WT</text>
<line x1="386.10" y1="978.00" x2="393.90" y2="978.00" stroke="#231f20" stroke-width="2.2" />
<line x1="401.70" y1="978.00" x2="409.50" y2="978.00" stroke="#231f20" stroke-width="2.2" />
<line x1="417.30" y1="978.00" x2="425.10" y2="978.00" stroke="#231f20" stroke-width="2.2" />
<path d="M427.60,972.50 L441.20,978.00 L427.60,983.50 L429.00,978.00Z" fill="#231f20"/>
<line x1="212.80" y1="1004.60" x2="240.50" y2="1004.60" stroke="#231f20" stroke-width="2.4" />
<circle cx="226.65" cy="1004.60" r="3.7" fill="#231f20"/>
<line x1="294.20" y1="1006.60" x2="302.00" y2="1006.60" stroke="#231f20" stroke-width="2.2" />
<line x1="309.80" y1="1006.60" x2="317.60" y2="1006.60" stroke="#231f20" stroke-width="2.2" />
<path d="M324.20,1001.10 L337.80,1006.60 L324.20,1012.10 L325.60,1006.60Z" fill="#231f20"/>
<text x="345.30" y="1012.40" font-size="23.5" text-anchor="start" fill="#231f20" textLength="33.20" lengthAdjust="spacingAndGlyphs" >WT</text>
<line x1="386.10" y1="1006.60" x2="393.90" y2="1006.60" stroke="#231f20" stroke-width="2.2" />
<line x1="401.70" y1="1006.60" x2="409.50" y2="1006.60" stroke="#231f20" stroke-width="2.2" />
<line x1="417.30" y1="1006.60" x2="425.10" y2="1006.60" stroke="#231f20" stroke-width="2.2" />
<path d="M427.60,1001.10 L441.20,1006.60 L427.60,1012.10 L429.00,1006.60Z" fill="#231f20"/>
<line x1="170.70" y1="1034.30" x2="198.60" y2="1034.30" stroke="#3882c1" stroke-width="2.4" />
<circle cx="184.65" cy="1034.30" r="3.7" fill="#3882c1"/>
<line x1="294.20" y1="1035.40" x2="302.00" y2="1035.40" stroke="#231f20" stroke-width="2.2" />
<line x1="309.80" y1="1035.40" x2="317.60" y2="1035.40" stroke="#231f20" stroke-width="2.2" />
<path d="M324.20,1029.90 L337.80,1035.40 L324.20,1040.90 L325.60,1035.40Z" fill="#231f20"/>
<text x="345.30" y="1041.90" font-size="23.5" text-anchor="start" fill="#231f20" textLength="33.20" lengthAdjust="spacingAndGlyphs" >WT</text>
<line x1="386.10" y1="1035.40" x2="393.90" y2="1035.40" stroke="#231f20" stroke-width="2.2" />
<line x1="401.70" y1="1035.40" x2="409.50" y2="1035.40" stroke="#231f20" stroke-width="2.2" />
<line x1="417.30" y1="1035.40" x2="425.10" y2="1035.40" stroke="#231f20" stroke-width="2.2" />
<path d="M427.60,1029.90 L441.20,1035.40 L427.60,1040.90 L429.00,1035.40Z" fill="#231f20"/>
<line x1="80.00" y1="1062.30" x2="108.20" y2="1062.30" stroke="#e8302f" stroke-width="2.4" />
<circle cx="94.10" cy="1062.30" r="3.7" fill="#e8302f"/>
<line x1="294.20" y1="1064.00" x2="302.00" y2="1064.00" stroke="#231f20" stroke-width="2.2" />
<line x1="309.80" y1="1064.00" x2="317.60" y2="1064.00" stroke="#231f20" stroke-width="2.2" />
<path d="M324.20,1058.50 L337.80,1064.00 L324.20,1069.50 L325.60,1064.00Z" fill="#231f20"/>
<text x="345.30" y="1071.30" font-size="23.5" text-anchor="start" fill="#231f20" textLength="33.20" lengthAdjust="spacingAndGlyphs" >WT</text>
<line x1="386.10" y1="1064.00" x2="393.90" y2="1064.00" stroke="#231f20" stroke-width="2.2" />
<line x1="401.70" y1="1064.00" x2="409.50" y2="1064.00" stroke="#231f20" stroke-width="2.2" />
<line x1="417.30" y1="1064.00" x2="425.10" y2="1064.00" stroke="#231f20" stroke-width="2.2" />
<path d="M427.60,1058.50 L441.20,1064.00 L427.60,1069.50 L429.00,1064.00Z" fill="#231f20"/>
<text x="450.45" y="985.60" font-size="23.5" text-anchor="start" fill="#231f20" textLength="140.80" lengthAdjust="spacingAndGlyphs" >LPS + vehicle</text>
<text x="450.42" y="1014.50" font-size="23.5" text-anchor="start" fill="#231f20" textLength="160.36" lengthAdjust="spacingAndGlyphs" >LPS + TAK-243</text>
<text x="450.42" y="1043.20" font-size="23.5" text-anchor="start" fill="#231f20" textLength="160.36" lengthAdjust="spacingAndGlyphs" >LPS + TAK-243</text>
<text x="450.42" y="1072.20" font-size="23.5" text-anchor="start" fill="#231f20" textLength="160.36" lengthAdjust="spacingAndGlyphs" >LPS + TAK-243</text>
<text x="248.13" y="984.00" font-size="23.5" text-anchor="start" fill="#231f20" textLength="34.21" lengthAdjust="spacingAndGlyphs" font-style="italic">WT</text>
<text x="247.52" y="1012.40" font-size="23.5" text-anchor="start" fill="#231f20" textLength="34.31" lengthAdjust="spacingAndGlyphs" font-style="italic">WT</text>
<text x="204.95" y="1041.90" font-size="23.5" text-anchor="start" fill="#231f20" textLength="56.94" lengthAdjust="spacingAndGlyphs" font-style="italic">Ripk3</text>
<text x="263.41" y="1031.00" font-size="15" text-anchor="start" fill="#231f20" textLength="21.36" lengthAdjust="spacingAndGlyphs" style="stroke-width:0.12px">−/−</text>
<text x="119.14" y="1071.30" font-size="23.5" text-anchor="start" fill="#231f20" textLength="57.75" lengthAdjust="spacingAndGlyphs" font-style="italic">Ripk3</text>
<text x="176.22" y="1058.40" font-size="15" text-anchor="start" fill="#231f20" textLength="21.25" lengthAdjust="spacingAndGlyphs" style="stroke-width:0.12px">−/−</text>
<text x="197.02" y="1071.30" font-size="23.5" text-anchor="start" fill="#231f20" textLength="66.62" lengthAdjust="spacingAndGlyphs" font-style="italic">Casp8</text>
<text x="263.52" y="1058.40" font-size="15" text-anchor="start" fill="#231f20" textLength="21.25" lengthAdjust="spacingAndGlyphs" style="stroke-width:0.12px">−/−</text>
<line x1="90.70" y1="1094.60" x2="90.70" y2="1387.10" stroke="#231f20" stroke-width="1.3" />
<line x1="84.50" y1="1366.30" x2="90.70" y2="1366.30" stroke="#231f20" stroke-width="1.3" />
<line x1="84.50" y1="1345.40" x2="90.70" y2="1345.40" stroke="#231f20" stroke-width="1.3" />
<line x1="84.50" y1="1324.50" x2="90.70" y2="1324.50" stroke="#231f20" stroke-width="1.3" />
<line x1="78.70" y1="1303.60" x2="90.70" y2="1303.60" stroke="#231f20" stroke-width="1.3" />
<line x1="84.50" y1="1282.70" x2="90.70" y2="1282.70" stroke="#231f20" stroke-width="1.3" />
<line x1="84.50" y1="1261.80" x2="90.70" y2="1261.80" stroke="#231f20" stroke-width="1.3" />
<line x1="84.50" y1="1240.90" x2="90.70" y2="1240.90" stroke="#231f20" stroke-width="1.3" />
<line x1="84.50" y1="1220.00" x2="90.70" y2="1220.00" stroke="#231f20" stroke-width="1.3" />
<line x1="78.70" y1="1199.10" x2="90.70" y2="1199.10" stroke="#231f20" stroke-width="1.3" />
<line x1="84.50" y1="1178.20" x2="90.70" y2="1178.20" stroke="#231f20" stroke-width="1.3" />
<line x1="84.50" y1="1157.30" x2="90.70" y2="1157.30" stroke="#231f20" stroke-width="1.3" />
<line x1="84.50" y1="1136.40" x2="90.70" y2="1136.40" stroke="#231f20" stroke-width="1.3" />
<line x1="84.50" y1="1115.50" x2="90.70" y2="1115.50" stroke="#231f20" stroke-width="1.3" />
<line x1="78.70" y1="1094.60" x2="90.70" y2="1094.60" stroke="#231f20" stroke-width="1.3" />
<line x1="90.70" y1="1387.10" x2="285.60" y2="1387.10" stroke="#231f20" stroke-width="1.3" />
<line x1="106.70" y1="1387.10" x2="106.70" y2="1398.60" stroke="#231f20" stroke-width="1.3" />
<line x1="139.20" y1="1387.10" x2="139.20" y2="1398.60" stroke="#231f20" stroke-width="1.3" />
<line x1="171.60" y1="1387.10" x2="171.60" y2="1398.60" stroke="#231f20" stroke-width="1.3" />
<line x1="204.20" y1="1387.10" x2="204.20" y2="1398.60" stroke="#231f20" stroke-width="1.3" />
<line x1="236.60" y1="1387.10" x2="236.60" y2="1398.60" stroke="#231f20" stroke-width="1.3" />
<line x1="269.30" y1="1387.10" x2="269.30" y2="1398.60" stroke="#231f20" stroke-width="1.3" />
<line x1="183.20" y1="1393.55" x2="189.00" y2="1379.85" stroke="#231f20" stroke-width="1.4" />
<line x1="187.40" y1="1393.55" x2="193.20" y2="1379.85" stroke="#231f20" stroke-width="1.4" />
<text x="43.60" y="1103.10" font-size="23.5" text-anchor="start" fill="#231f20" textLength="25.72" lengthAdjust="spacingAndGlyphs" >40</text>
<text x="42.47" y="1207.80" font-size="23.5" text-anchor="start" fill="#231f20" textLength="27.01" lengthAdjust="spacingAndGlyphs" >35</text>
<text x="42.47" y="1312.40" font-size="23.5" text-anchor="start" fill="#231f20" textLength="27.01" lengthAdjust="spacingAndGlyphs" >30</text>
<text x="99.14" y="1423.90" font-size="23.5" text-anchor="start" fill="#231f20" textLength="13.91" lengthAdjust="spacingAndGlyphs" >0</text>
<text x="132.14" y="1423.90" font-size="23.5" text-anchor="start" fill="#231f20" textLength="13.91" lengthAdjust="spacingAndGlyphs" >3</text>
<text x="163.42" y="1423.90" font-size="23.5" text-anchor="start" fill="#231f20" textLength="14.15" lengthAdjust="spacingAndGlyphs" >6</text>
<text x="190.62" y="1423.90" font-size="23.5" text-anchor="start" fill="#231f20" textLength="25.62" lengthAdjust="spacingAndGlyphs" >24</text>
<text x="222.80" y="1423.90" font-size="23.5" text-anchor="start" fill="#231f20" textLength="26.04" lengthAdjust="spacingAndGlyphs" >48</text>
<text x="255.37" y="1423.90" font-size="23.5" text-anchor="start" fill="#231f20" textLength="27.01" lengthAdjust="spacingAndGlyphs" >72</text>
<text x="98.80" y="1461.30" font-size="23.5" text-anchor="start" fill="#231f20" textLength="180.55" lengthAdjust="spacingAndGlyphs" >Time after LPS (h)</text>
<text x="19.00" y="1326.70" font-size="23.5" text-anchor="start" fill="#231f20" transform="rotate(-90 19.00 1326.70)" textLength="175.85" lengthAdjust="spacingAndGlyphs" >Temperature (°C)</text>
<line x1="106.70" y1="1160.00" x2="106.70" y2="1178.90" stroke="#231f20" stroke-width="1.8" />
<line x1="101.95" y1="1160.00" x2="111.45" y2="1160.00" stroke="#231f20" stroke-width="1.8" />
<line x1="101.95" y1="1178.90" x2="111.45" y2="1178.90" stroke="#231f20" stroke-width="1.8" />
<line x1="139.20" y1="1236.40" x2="139.20" y2="1262.00" stroke="#231f20" stroke-width="1.8" />
<line x1="134.45" y1="1236.40" x2="143.95" y2="1236.40" stroke="#231f20" stroke-width="1.8" />
<line x1="134.45" y1="1262.00" x2="143.95" y2="1262.00" stroke="#231f20" stroke-width="1.8" />
<line x1="171.70" y1="1336.80" x2="171.70" y2="1372.10" stroke="#231f20" stroke-width="1.8" />
<line x1="166.95" y1="1336.80" x2="176.45" y2="1336.80" stroke="#231f20" stroke-width="1.8" />
<line x1="166.95" y1="1372.10" x2="176.45" y2="1372.10" stroke="#231f20" stroke-width="1.8" />
<line x1="204.20" y1="1304.70" x2="204.20" y2="1326.40" stroke="#231f20" stroke-width="1.8" />
<line x1="199.45" y1="1304.70" x2="208.95" y2="1304.70" stroke="#231f20" stroke-width="1.8" />
<line x1="199.45" y1="1326.40" x2="208.95" y2="1326.40" stroke="#231f20" stroke-width="1.8" />
<line x1="236.60" y1="1245.00" x2="236.60" y2="1277.90" stroke="#231f20" stroke-width="1.8" />
<line x1="231.85" y1="1245.00" x2="241.35" y2="1245.00" stroke="#231f20" stroke-width="1.8" />
<line x1="231.85" y1="1277.90" x2="241.35" y2="1277.90" stroke="#231f20" stroke-width="1.8" />
<line x1="269.30" y1="1244.10" x2="269.30" y2="1368.80" stroke="#231f20" stroke-width="1.8" />
<line x1="264.55" y1="1244.10" x2="274.05" y2="1244.10" stroke="#231f20" stroke-width="1.8" />
<line x1="264.55" y1="1368.80" x2="274.05" y2="1368.80" stroke="#231f20" stroke-width="1.8" />
<polyline points="106.70,1165.30 139.20,1249.60 171.70,1354.50 204.20,1315.90 236.60,1261.30 269.30,1306.10" fill="none" stroke="#231f20" stroke-width="2.6" stroke-linejoin="round" />
<circle cx="106.70" cy="1165.30" r="4.6" fill="#231f20"/>
<circle cx="139.20" cy="1249.60" r="4.6" fill="#231f20"/>
<circle cx="171.70" cy="1354.50" r="4.6" fill="#231f20"/>
<circle cx="204.20" cy="1315.90" r="4.6" fill="#231f20"/>
<circle cx="236.60" cy="1261.30" r="4.6" fill="#231f20"/>
<circle cx="269.30" cy="1306.10" r="4.6" fill="#231f20"/>
<line x1="106.70" y1="1163.00" x2="106.70" y2="1177.00" stroke="#8e8f91" stroke-width="1.8" />
<line x1="101.95" y1="1163.00" x2="111.45" y2="1163.00" stroke="#8e8f91" stroke-width="1.8" />
<line x1="101.95" y1="1177.00" x2="111.45" y2="1177.00" stroke="#8e8f91" stroke-width="1.8" />
<line x1="139.20" y1="1191.00" x2="139.20" y2="1213.00" stroke="#8e8f91" stroke-width="1.8" />
<line x1="134.45" y1="1191.00" x2="143.95" y2="1191.00" stroke="#8e8f91" stroke-width="1.8" />
<line x1="134.45" y1="1213.00" x2="143.95" y2="1213.00" stroke="#8e8f91" stroke-width="1.8" />
<line x1="171.70" y1="1305.00" x2="171.70" y2="1322.30" stroke="#8e8f91" stroke-width="1.8" />
<line x1="166.95" y1="1305.00" x2="176.45" y2="1305.00" stroke="#8e8f91" stroke-width="1.8" />
<line x1="166.95" y1="1322.30" x2="176.45" y2="1322.30" stroke="#8e8f91" stroke-width="1.8" />
<line x1="204.20" y1="1235.80" x2="204.20" y2="1255.50" stroke="#8e8f91" stroke-width="1.8" />
<line x1="199.45" y1="1235.80" x2="208.95" y2="1235.80" stroke="#8e8f91" stroke-width="1.8" />
<line x1="199.45" y1="1255.50" x2="208.95" y2="1255.50" stroke="#8e8f91" stroke-width="1.8" />
<line x1="236.60" y1="1167.70" x2="236.60" y2="1192.00" stroke="#8e8f91" stroke-width="1.8" />
<line x1="231.85" y1="1167.70" x2="241.35" y2="1167.70" stroke="#8e8f91" stroke-width="1.8" />
<line x1="231.85" y1="1192.00" x2="241.35" y2="1192.00" stroke="#8e8f91" stroke-width="1.8" />
<line x1="269.30" y1="1174.80" x2="269.30" y2="1185.00" stroke="#8e8f91" stroke-width="1.8" />
<line x1="264.55" y1="1174.80" x2="274.05" y2="1174.80" stroke="#8e8f91" stroke-width="1.8" />
<line x1="264.55" y1="1185.00" x2="274.05" y2="1185.00" stroke="#8e8f91" stroke-width="1.8" />
<polyline points="106.70,1170.00 139.20,1202.20 171.70,1315.00 204.20,1246.20 236.60,1180.50 269.30,1179.60" fill="none" stroke="#8e8f91" stroke-width="2.6" stroke-linejoin="round" />
<circle cx="106.70" cy="1170.00" r="4.6" fill="#8e8f91"/>
<circle cx="139.20" cy="1202.20" r="4.6" fill="#8e8f91"/>
<circle cx="171.70" cy="1315.00" r="4.6" fill="#8e8f91"/>
<circle cx="204.20" cy="1246.20" r="4.6" fill="#8e8f91"/>
<circle cx="236.60" cy="1180.50" r="4.6" fill="#8e8f91"/>
<circle cx="269.30" cy="1179.60" r="4.6" fill="#8e8f91"/>
<line x1="106.70" y1="1156.70" x2="106.70" y2="1166.00" stroke="#3882c1" stroke-width="1.8" />
<line x1="101.95" y1="1156.70" x2="111.45" y2="1156.70" stroke="#3882c1" stroke-width="1.8" />
<line x1="101.95" y1="1166.00" x2="111.45" y2="1166.00" stroke="#3882c1" stroke-width="1.8" />
<line x1="139.20" y1="1183.40" x2="139.20" y2="1198.20" stroke="#3882c1" stroke-width="1.8" />
<line x1="134.45" y1="1183.40" x2="143.95" y2="1183.40" stroke="#3882c1" stroke-width="1.8" />
<line x1="134.45" y1="1198.20" x2="143.95" y2="1198.20" stroke="#3882c1" stroke-width="1.8" />
<line x1="171.70" y1="1285.40" x2="171.70" y2="1311.90" stroke="#3882c1" stroke-width="1.8" />
<line x1="166.95" y1="1285.40" x2="176.45" y2="1285.40" stroke="#3882c1" stroke-width="1.8" />
<line x1="166.95" y1="1311.90" x2="176.45" y2="1311.90" stroke="#3882c1" stroke-width="1.8" />
<line x1="204.20" y1="1252.60" x2="204.20" y2="1284.60" stroke="#3882c1" stroke-width="1.8" />
<line x1="199.45" y1="1252.60" x2="208.95" y2="1252.60" stroke="#3882c1" stroke-width="1.8" />
<line x1="199.45" y1="1284.60" x2="208.95" y2="1284.60" stroke="#3882c1" stroke-width="1.8" />
<line x1="236.60" y1="1184.70" x2="236.60" y2="1198.00" stroke="#3882c1" stroke-width="1.8" />
<line x1="231.85" y1="1184.70" x2="241.35" y2="1184.70" stroke="#3882c1" stroke-width="1.8" />
<line x1="231.85" y1="1198.00" x2="241.35" y2="1198.00" stroke="#3882c1" stroke-width="1.8" />
<line x1="269.30" y1="1190.00" x2="269.30" y2="1249.60" stroke="#3882c1" stroke-width="1.8" />
<line x1="264.55" y1="1190.00" x2="274.05" y2="1190.00" stroke="#3882c1" stroke-width="1.8" />
<line x1="264.55" y1="1249.60" x2="274.05" y2="1249.60" stroke="#3882c1" stroke-width="1.8" />
<polyline points="106.70,1160.40 139.20,1189.30 171.70,1297.40 204.20,1268.40 236.60,1192.50 269.30,1219.00" fill="none" stroke="#3882c1" stroke-width="2.6" stroke-linejoin="round" />
<circle cx="106.70" cy="1160.40" r="4.6" fill="#3882c1"/>
<circle cx="139.20" cy="1189.30" r="4.6" fill="#3882c1"/>
<circle cx="171.70" cy="1297.40" r="4.6" fill="#3882c1"/>
<circle cx="204.20" cy="1268.40" r="4.6" fill="#3882c1"/>
<circle cx="236.60" cy="1192.50" r="4.6" fill="#3882c1"/>
<circle cx="269.30" cy="1219.00" r="4.6" fill="#3882c1"/>
<line x1="106.70" y1="1163.70" x2="106.70" y2="1188.00" stroke="#e8302f" stroke-width="1.8" />
<line x1="101.95" y1="1163.70" x2="111.45" y2="1163.70" stroke="#e8302f" stroke-width="1.8" />
<line x1="101.95" y1="1188.00" x2="111.45" y2="1188.00" stroke="#e8302f" stroke-width="1.8" />
<line x1="139.20" y1="1195.00" x2="139.20" y2="1219.00" stroke="#e8302f" stroke-width="1.8" />
<line x1="134.45" y1="1195.00" x2="143.95" y2="1195.00" stroke="#e8302f" stroke-width="1.8" />
<line x1="134.45" y1="1219.00" x2="143.95" y2="1219.00" stroke="#e8302f" stroke-width="1.8" />
<line x1="171.70" y1="1291.50" x2="171.70" y2="1332.00" stroke="#e8302f" stroke-width="1.8" />
<line x1="166.95" y1="1291.50" x2="176.45" y2="1291.50" stroke="#e8302f" stroke-width="1.8" />
<line x1="166.95" y1="1332.00" x2="176.45" y2="1332.00" stroke="#e8302f" stroke-width="1.8" />
<line x1="204.20" y1="1216.10" x2="204.20" y2="1240.70" stroke="#e8302f" stroke-width="1.8" />
<line x1="199.45" y1="1216.10" x2="208.95" y2="1216.10" stroke="#e8302f" stroke-width="1.8" />
<line x1="199.45" y1="1240.70" x2="208.95" y2="1240.70" stroke="#e8302f" stroke-width="1.8" />
<line x1="236.60" y1="1177.40" x2="236.60" y2="1188.40" stroke="#e8302f" stroke-width="1.8" />
<line x1="231.85" y1="1177.40" x2="241.35" y2="1177.40" stroke="#e8302f" stroke-width="1.8" />
<line x1="231.85" y1="1188.40" x2="241.35" y2="1188.40" stroke="#e8302f" stroke-width="1.8" />
<line x1="269.30" y1="1165.80" x2="269.30" y2="1189.10" stroke="#e8302f" stroke-width="1.8" />
<line x1="264.55" y1="1165.80" x2="274.05" y2="1165.80" stroke="#e8302f" stroke-width="1.8" />
<line x1="264.55" y1="1189.10" x2="274.05" y2="1189.10" stroke="#e8302f" stroke-width="1.8" />
<polyline points="106.70,1174.90 139.20,1206.20 171.70,1310.30 204.20,1228.60 236.60,1181.80 269.30,1178.20" fill="none" stroke="#e8302f" stroke-width="2.6" stroke-linejoin="round" />
<circle cx="106.70" cy="1174.90" r="4.6" fill="#e8302f"/>
<circle cx="139.20" cy="1206.20" r="4.6" fill="#e8302f"/>
<circle cx="171.70" cy="1310.30" r="4.6" fill="#e8302f"/>
<circle cx="204.20" cy="1228.60" r="4.6" fill="#e8302f"/>
<circle cx="236.60" cy="1181.80" r="4.6" fill="#e8302f"/>
<circle cx="269.30" cy="1178.20" r="4.6" fill="#e8302f"/>
<line x1="426.50" y1="1093.60" x2="426.50" y2="1396.30" stroke="#231f20" stroke-width="1.3" />
<line x1="414.70" y1="1384.80" x2="426.50" y2="1384.80" stroke="#231f20" stroke-width="1.3" />
<line x1="420.00" y1="1358.34" x2="426.50" y2="1358.34" stroke="#231f20" stroke-width="1.3" />
<line x1="420.00" y1="1331.88" x2="426.50" y2="1331.88" stroke="#231f20" stroke-width="1.3" />
<line x1="420.00" y1="1305.42" x2="426.50" y2="1305.42" stroke="#231f20" stroke-width="1.3" />
<line x1="420.00" y1="1278.96" x2="426.50" y2="1278.96" stroke="#231f20" stroke-width="1.3" />
<line x1="414.70" y1="1252.50" x2="426.50" y2="1252.50" stroke="#231f20" stroke-width="1.3" />
<line x1="420.00" y1="1226.04" x2="426.50" y2="1226.04" stroke="#231f20" stroke-width="1.3" />
<line x1="420.00" y1="1199.58" x2="426.50" y2="1199.58" stroke="#231f20" stroke-width="1.3" />
<line x1="420.00" y1="1173.12" x2="426.50" y2="1173.12" stroke="#231f20" stroke-width="1.3" />
<line x1="420.00" y1="1146.66" x2="426.50" y2="1146.66" stroke="#231f20" stroke-width="1.3" />
<line x1="414.70" y1="1120.20" x2="426.50" y2="1120.20" stroke="#231f20" stroke-width="1.3" />
<line x1="420.00" y1="1093.74" x2="426.50" y2="1093.74" stroke="#231f20" stroke-width="1.3" />
<line x1="414.70" y1="1384.80" x2="620.20" y2="1384.80" stroke="#231f20" stroke-width="1.3" />
<line x1="426.30" y1="1384.80" x2="426.30" y2="1396.30" stroke="#231f20" stroke-width="1.3" />
<line x1="504.10" y1="1384.80" x2="504.10" y2="1396.30" stroke="#231f20" stroke-width="1.3" />
<line x1="581.50" y1="1384.80" x2="581.50" y2="1396.30" stroke="#231f20" stroke-width="1.3" />
<line x1="464.90" y1="1384.80" x2="464.90" y2="1391.30" stroke="#231f20" stroke-width="1.3" />
<line x1="543.00" y1="1384.80" x2="543.00" y2="1391.30" stroke="#231f20" stroke-width="1.3" />
<line x1="620.00" y1="1384.80" x2="620.00" y2="1391.30" stroke="#231f20" stroke-width="1.3" />
<text x="365.71" y="1127.20" font-size="23.5" text-anchor="start" fill="#231f20" textLength="36.99" lengthAdjust="spacingAndGlyphs" >100</text>
<text x="378.63" y="1261.80" font-size="23.5" text-anchor="start" fill="#231f20" textLength="25.27" lengthAdjust="spacingAndGlyphs" >50</text>
<text x="390.91" y="1393.30" font-size="23.5" text-anchor="start" fill="#231f20" textLength="12.96" lengthAdjust="spacingAndGlyphs" >0</text>
<text x="419.66" y="1424.50" font-size="23.5" text-anchor="start" fill="#231f20" textLength="13.55" lengthAdjust="spacingAndGlyphs" >0</text>
<text x="491.20" y="1424.50" font-size="23.5" text-anchor="start" fill="#231f20" textLength="25.72" lengthAdjust="spacingAndGlyphs" >48</text>
<text x="566.84" y="1424.50" font-size="23.5" text-anchor="start" fill="#231f20" textLength="27.67" lengthAdjust="spacingAndGlyphs" >96</text>
<text x="432.10" y="1461.30" font-size="23.5" text-anchor="start" fill="#231f20" textLength="182.86" lengthAdjust="spacingAndGlyphs" >Time after LPS (h)</text>
<text x="345.00" y="1369.87" font-size="23.5" text-anchor="start" fill="#231f20" transform="rotate(-90 345.00 1369.87)" textLength="261.06" lengthAdjust="spacingAndGlyphs" >Probability of survival (%)</text>
<polyline points="424.80,1109.55 622.00,1109.55" fill="none" stroke="#8e8f91" stroke-width="3.8" stroke-linejoin="round" />
<polyline points="424.80,1115.00 622.00,1115.00" fill="none" stroke="#e8302f" stroke-width="4.0" stroke-linejoin="round" />
<polyline points="424.80,1120.60 542.50,1120.60 542.50,1157.90 581.60,1157.90 581.60,1196.00 622.00,1196.00" fill="none" stroke="#3882c1" stroke-width="4.0" stroke-linejoin="round" />
<polyline points="424.80,1120.20 435.20,1120.20 435.20,1195.80 464.10,1195.80 464.10,1233.50 542.50,1233.50 542.50,1309.00 622.00,1309.00" fill="none" stroke="#231f20" stroke-width="4.0" stroke-linejoin="round" />
<rect x="618.00" y="1105.40" width="4.20" height="5.60" fill="#8e8f91"/>
<rect x="618.00" y="1111.00" width="4.20" height="5.80" fill="#e8302f"/>
<rect x="618.00" y="1191.20" width="4.20" height="6.40" fill="#3882c1"/>
<rect x="618.00" y="1305.40" width="4.20" height="5.40" fill="#231f20"/>
<line x1="597.40" y1="1199.50" x2="597.40" y2="1305.40" stroke="#231f20" stroke-width="1.5" stroke-dasharray="3.4 2.5"/>
<line x1="625.20" y1="1116.00" x2="625.20" y2="1224.50" stroke="#231f20" stroke-width="1.5" stroke-dasharray="3.4 2.5"/>
<line x1="625.20" y1="1275.30" x2="625.20" y2="1308.50" stroke="#231f20" stroke-width="1.5" stroke-dasharray="3.4 2.5"/>
<text x="628.10" y="1107.70" font-size="23.5" text-anchor="start" fill="#231f20" textLength="51.41" lengthAdjust="spacingAndGlyphs" ><tspan font-style="italic">n</tspan> = 6</text>
<text x="628.10" y="1131.50" font-size="23.5" text-anchor="start" fill="#231f20" textLength="50.60" lengthAdjust="spacingAndGlyphs" ><tspan font-style="italic">n</tspan> = 7</text>
<text x="628.10" y="1201.70" font-size="23.5" text-anchor="start" fill="#231f20" textLength="52.02" lengthAdjust="spacingAndGlyphs" ><tspan font-style="italic">n</tspan> = 7</text>
<text x="628.10" y="1312.80" font-size="23.5" text-anchor="start" fill="#231f20" textLength="52.02" lengthAdjust="spacingAndGlyphs" ><tspan font-style="italic">n</tspan> = 7</text>
<text x="589.50" y="1296.49" font-size="23.5" text-anchor="start" fill="#231f20" transform="rotate(-90 589.50 1296.49)" textLength="87.19" lengthAdjust="spacingAndGlyphs" ><tspan font-style="italic">P</tspan> = 0.06</text>
<path d="M625.20,1245.70L620.90,1245.70M625.20,1245.70L623.87,1241.61M625.20,1245.70L628.68,1243.17M625.20,1245.70L628.68,1248.23M625.20,1245.70L623.87,1249.79" stroke="#231f20" stroke-width="1.8" stroke-linecap="round" fill="none"/>
<path d="M625.20,1255.70L620.90,1255.70M625.20,1255.70L623.87,1251.61M625.20,1255.70L628.68,1253.17M625.20,1255.70L628.68,1258.23M625.20,1255.70L623.87,1259.79" stroke="#231f20" stroke-width="1.8" stroke-linecap="round" fill="none"/>
<text x="653.50" y="1271.98" font-size="23.5" text-anchor="start" fill="#231f20" transform="rotate(-90 653.50 1271.98)" textLength="35.21" lengthAdjust="spacingAndGlyphs" ><tspan font-style="italic">P</tspan> =</text>
<text x="681.00" y="1282.47" font-size="23.5" text-anchor="start" fill="#231f20" transform="rotate(-90 681.00 1282.47)" textLength="56.96" lengthAdjust="spacingAndGlyphs" >0.007</text>
</svg>
</body></html>
